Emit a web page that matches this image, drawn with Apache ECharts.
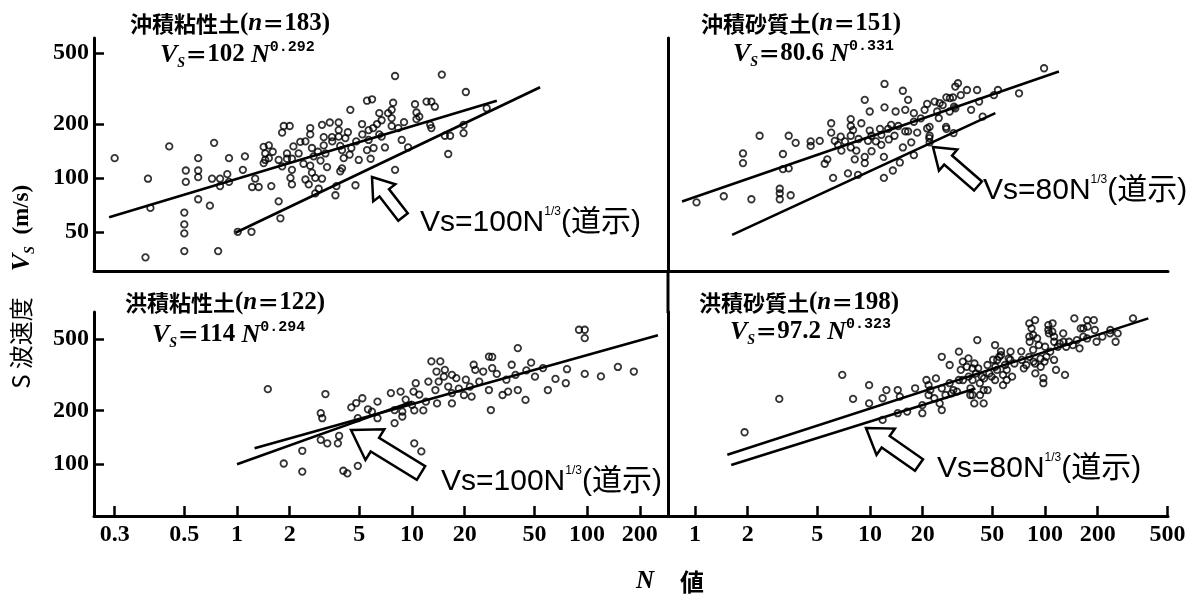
<!DOCTYPE html>
<html>
<head>
<meta charset="utf-8">
<script src="https://cdn.jsdelivr.net/npm/echarts@6/dist/echarts.min.js"></script>
<style>
html,body{margin:0;padding:0;background:#fff}
#chart{width:1191px;height:595px}
</style>
</head>
<body>
<div id="chart"></div>
<script>
// ---- data (N, Vs) ----
var panelNames = ['沖積粘性土', '沖積砂質土', '洪積粘性土', '洪積砂質土'];
var panelCount = ['183', '151', '122', '198'];
var coefA = ['102', '80.6', '114', '97.2'];
var coefB = ['0.292', '0.331', '0.294', '0.323'];
var refText = ['100', '80', '100', '80'];

var xTicksLeft = [0.2, 0.5, 1, 2, 5, 10, 20, 50, 100, 200];
var xLabelsLeft = ['0.3', '0.5', '1', '2', '5', '10', '20', '50', '100', '200'];
var xTicksRight = [1, 2, 5, 10, 20, 50, 100, 200, 500];
var xLabelsRight = ['1', '2', '5', '10', '20', '50', '100', '200', '500'];
var yTicksTop = [50, 100, 200, 500];
var yTicksBottom = [100, 200, 500];

// 沖積粘性土
var tlPoints = [
  [0.20,129],[0.30,36],[0.31,99],[0.32,68],[0.41,150],[0.50,64],[0.50,55],[0.50,49],[0.50,39],
  [0.51,110],[0.51,95],[0.60,129],[0.60,110],[0.60,101],[0.60,76],[0.70,70],[0.74,157],[0.78,39],
  [0.72,99],[0.80,99],[0.80,90],[0.88,105],[0.90,129],[0.90,95],[1.08,111],[1.11,132],[1.01,50],
  [1.21,50],[1.27,99],[1.22,89],[1.33,89],[1.42,149],[1.45,137],[1.45,126],[1.42,121],[1.52,152],
  [1.52,129],[1.57,90],[1.73,74],[1.77,59.5],[1.81,179],[1.85,195],[2.0,195],[1.73,126],[1.81,116],
  [1.93,137],[1.93,128],[2.06,128],[2.06,111],[2.02,100],[2.06,92],[2.25,137],[2.30,159],[2.46,160],
  [2.62,190],[2.62,175],[2.68,147],[2.74,132],[2.62,117],[2.68,107],[2.46,98],[2.57,92],[2.80,100],
  [2.93,87],[3.06,99],[2.80,82],[3.06,198],[3.13,169],[3.13,152],[3.20,137],[3.27,115],[3.39,204],
  [3.49,169],[3.65,80],[3.7,90],[3.81,204],[3.81,185],[3.81,170],[3.89,151],[3.98,143],[4.07,129],
  [4.16,167],[3.98,113],[3.89,109],[4.44,240],[4.5,147],[4.75,91],[4.96,126],[5.18,200],[5.53,270],
  [5.91,275],[5.65,185],[5.65,163],[5.53,143],[5.8,128],[6.03,147],[6.31,200],[6.5,230],[6.5,175],
  [8.0,371],[14.8,378],[20.3,302],[7.8,263],[10.4,258],[12.1,267],[12.9,267],[7.65,240],[7.65,216],
  [10.6,232],[10.6,213],[7.65,195],[8.35,190],[12.7,198],[12.9,190],[26.7,245],[6.7,210],[6.7,170],
  [7.0,148],[8.73,163],[9.5,148],[15.4,172],[16.5,172],[19.7,178],[19.7,198],[16.1,136],[8.0,111],
  [1.6,140],[2.1,150],[2.9,140],[3.5,160],[4.3,180],[4.8,160],[5.2,175],[6.0,190],[7.3,230],
  [9.0,205],[11.0,220],[13.5,250],[2.4,120],[3.0,125],[4.4,135]
];
var tlFit = [[0.186,60.3],[30.5,270]];
var tlRef = [[0.98,49.4],[53.9,321]];

// 沖積砂質土
var trPoints = [
  [1.02,73],[1.46,79],[2.10,76],[3.05,87],[3.05,82],[3.05,76],[3.52,80],[1.88,137],[1.88,121],
  [2.34,172],[3.18,136],[3.18,112],[3.43,113],[3.43,172],[3.76,157],[4.58,151],[4.58,160],[5.16,161],
  [5.51,120],[5.70,127],[6.0,202],[6.0,179],[6.15,100],[6.29,161],[6.56,153],[6.86,142],[7.48,106],
  [7.76,213],[7.76,195],[7.76,172],[7.76,148],[8.0,185],[8.18,127],[8.35,142],[8.54,104],[8.92,202],
  [9.33,273],[9.33,131],[9.33,121],[9.74,161],[9.96,235],[9.96,184],[10.2,141],[10.2,172],[11.4,188],
  [11.6,174],[11.6,153],[12.0,131],[12.0,100],[12.1,335],[12.1,248],[12.7,188],[12.8,164],[13.2,198],
  [13.5,110],[14.0,235],[14.5,195],[14.8,122],[15.4,307],[15.4,148],[15.9,240],[15.9,182],[16.5,273],
  [16.5,182],[17.2,158],[17.8,230],[17.8,206],[17.8,134],[18.6,179],[21.2,259],[21.9,193],[21.9,172],
  [21.9,158],[23.4,267],[24.7,216],[25.0,262],[27.3,282],[27.3,188],[28.5,235],[29.8,282],[30.7,324],
  [30.7,245],[98.7,410],[71,297],[53.8,310],[51,290],[40.9,310],[35.8,310],[31.8,338],[42,267],
  [37.8,240],[44,220],[30.2,250],[28.6,279],[27.2,193],[24.2,235],[21.2,189],[30,178],[21.8,167],
  [6.8,170],[7.2,160],[8.6,165],[10.8,160],[13.8,172],[19.5,215],[20.5,240],[26,255],[33,290]
];
var trFit = [[0.843,73.8],[120,393]];
var trRef = [[1.63,48.1],[52,230]];

// 洪積粘性土
var blPoints = [
  [1.50,263],[1.85,101],[2.36,119],[2.36,91],[3.01,193],[3.07,181],[3.2,247],[3.01,137],[3.28,131],
  [3.77,131],[3.83,144],[4.05,92],[4.27,89],[4.5,208],[4.8,220],[5.2,234],[4.9,181],[4.9,98],
  [5.6,120],[5.6,203],[6.0,149],[6.35,224],[6.35,181],[5.9,197],[7.57,250],[7.95,170],[8.6,255],
  [8.8,185],[7.95,201],[8.8,197],[10,215],[10.2,255],[10.3,200],[10.5,284],[10.3,131],[11.3,118],
  [12,224],[11.6,200],[12.4,290],[12.9,376],[13.8,330],[14.5,376],[13.6,260],[13.9,219],[15.2,309],
  [15.4,337],[16.1,272],[16.9,316],[16.9,219],[17.9,303],[16.9,250],[19.8,244],[20.3,297],[21.9,239],
  [22.5,360],[23.0,337],[21.4,272],[24.2,290],[27.5,260],[28.2,201],[27.5,400],[28.7,398],[28.7,345],
  [32.9,244],[34.6,297],[35.4,255],[37.1,360],[39,316],[40.2,260],[40.2,446],[44.5,229],[47.9,370],
  [50.4,309],[59.7,260],[75.6,284],[76.8,340],[97,320],[89.9,565],[97,565],[97,507],
  [120,310],[150,350],[185,330],[9.2,230],[11.0,245],[14.2,290],[18.5,265],[25.5,330],[30.5,320],
  [45,335],[56,345],[66,300]
];
var blFit = [[1.26,123],[254,527]];
var blRef = [[1.0,100],[10,224]];

// 洪積砂質土
var brPoints = [
  [1.92,151],[3.03,232],[6.94,316],[8.0,232],[9.88,277],[9.88,219],[11.8,177],[11.8,234],[12.4,260],
  [14.4,260],[14.8,239],[14.4,193],[16.3,197],[18.1,266],[19.9,193],[19.9,214],[21.6,244],[21.6,277],
  [23.8,302],[25.7,266],[25.7,201],[25.7,399],[28.5,359],[28.5,284],[29.2,249],[31.4,255],[32.2,426],
  [33,337],[34,296],[36.5,391],[37.4,244],[38.5,344],[38.5,296],[39.4,219],[40.3,322],[41,495],
  [42.4,284],[43.6,309],[44.6,219],[44.6,260],[46.9,359],[48,322],[50.5,384],[51.8,464],[51.8,296],
  [53.2,337],[56,408],[56,428],[57.5,277],[59,359],[60.4,296],[63.2,384],[64.8,309],[73.1,428],
  [78.1,359],[81.7,484],[83.7,575],[85.8,375],[88,322],[90.1,505],[94.2,390],[97.8,284],[97.8,303],
  [100,454],[105.2,539],[110.4,614],[112.8,484],[115.5,337],[127,539],[130,316],[132,454],[147,654],
  [152,494],[160,575],[175,588],[190,640],[197,484],[235,539],[253,484],[318,654],
  [21.0,296],[22.1,260],[23.3,234],[25.0,219],[27.0,244],[29.9,260],[32.2,296],[33.9,375],[35.7,351],
  [36.6,309],[37.5,266],[38.5,244],[39.5,366],[41.5,344],[42.5,244],[44.8,302],[47.0,260],[49.5,309],
  [52.0,351],[53.3,383],[54.7,399],[57.5,316],[60.4,337],[61.9,391],[63.5,426],[66.8,366],[73.7,383],
  [75.6,344],[81.3,399],[85.5,436],[87.7,366],[92.1,464],[94.4,351],[99.3,375],[101.8,399],[107,426],
  [112.6,383],[118.3,454],[121.3,474],[127.5,484],[137.1,484],[144.1,464],[157.4,445],[165.5,517],
  [174,505],[192.5,563],[212.5,517],[236,563],[260,539],[174,640],[165.5,575],[104.4,563],[104.4,600],
  [85.5,528],[81.3,517],[81.3,613],[87.7,640],[110,551],[112.6,517]
];
var brFit = [[1.53,113],[389,654]];
var brRef = [[1.61,99],[40,265]];

// ---- layout ----
var SERIF = "'Liberation Serif','DejaVu Serif',serif";
var CJK = "'Noto Sans CJK JP',sans-serif";
var SANS = "'Liberation Sans','Noto Sans CJK JP',sans-serif";
var MONO = "'Liberation Mono','DejaVu Sans Mono',monospace";

var grids = [
  {left: 94, top: 38, width: 574, height: 233},
  {left: 668, top: 38, width: 500, height: 233},
  {left: 94, top: 312, width: 574, height: 204},
  {left: 668, top: 312, width: 500, height: 204}
];
var xRange = [[0.1524, 290], [0.701, 504], [0.1524, 290], [0.701, 504]];
var yRange = [[30.2, 605], [30.2, 605], [51.4, 710], [51.4, 710]];

function labelFor(ticks, labels) {
  return function (v) {
    for (var i = 0; i < ticks.length; i++) {
      if (Math.abs(Math.log10(ticks[i]) - v) < 1e-6) return labels[i];
    }
    return '';
  };
}

var axisLine = {show: true, lineStyle: {color: '#000', width: 3}};
var tickLabel = {fontFamily: SERIF, fontWeight: 'bold', fontSize: 24, color: '#000'};

function makeX(gi, ticks, labels) {
  var r = xRange[gi];
  var logAx = {type: 'log', logBase: 10, gridIndex: gi, min: r[0], max: r[1], show: false};
  var valAx = {
    type: 'value', gridIndex: gi, position: 'bottom',
    min: Math.log10(r[0]), max: Math.log10(r[1]),
    axisLine: axisLine, splitLine: {show: false}
  };
  if (ticks) {
    var vals = ticks.map(Math.log10);
    valAx.axisTick = {show: true, inside: true, length: 10, customValues: vals, lineStyle: {color: '#000', width: 2.5}};
    valAx.axisLabel = Object.assign({show: true, margin: 7, customValues: vals, formatter: labelFor(ticks, labels)}, tickLabel);
  } else {
    valAx.axisTick = {show: false};
    valAx.axisLabel = {show: false};
  }
  return [logAx, valAx];
}

function makeY(gi, ticks) {
  var r = yRange[gi];
  var logAx = {type: 'log', logBase: 10, gridIndex: gi, min: r[0], max: r[1], show: false};
  var valAx = {
    type: 'value', gridIndex: gi, position: 'left',
    min: Math.log10(r[0]), max: Math.log10(r[1]),
    axisLine: axisLine, splitLine: {show: false}
  };
  if (ticks) {
    var vals = ticks.map(Math.log10);
    valAx.axisTick = {show: true, inside: true, length: 10, customValues: vals, lineStyle: {color: '#000', width: 2.5}};
    valAx.axisLabel = Object.assign({show: true, margin: 5, customValues: vals,
      formatter: labelFor(ticks, ticks.map(String))}, tickLabel);
  } else {
    valAx.axisTick = {show: false};
    valAx.axisLabel = {show: false};
  }
  return [logAx, valAx];
}

var xAxes = [].concat(
  makeX(0, null), makeX(1, null),
  makeX(2, xTicksLeft, xLabelsLeft), makeX(3, xTicksRight, xLabelsRight)
);
var yAxes = [].concat(
  makeY(0, yTicksTop), makeY(1, null),
  makeY(2, yTicksBottom), makeY(3, null)
);

function scatter(gi, pts) {
  return {
    type: 'scatter', xAxisIndex: gi * 2, yAxisIndex: gi * 2, data: pts,
    symbol: 'circle', symbolSize: 6.5, z: 3,
    itemStyle: {color: 'rgba(0,0,0,0)', borderColor: '#000', borderWidth: 1.8}
  };
}
function fitLine(gi, pts) {
  return {
    type: 'line', xAxisIndex: gi * 2, yAxisIndex: gi * 2, data: pts,
    symbol: 'none', z: 2, lineStyle: {color: '#000', width: 2.6}
  };
}

var series = [
  fitLine(0, tlFit), fitLine(0, tlRef), scatter(0, tlPoints),
  fitLine(1, trFit), fitLine(1, trRef), scatter(1, trPoints),
  fitLine(2, blFit), fitLine(2, blRef), scatter(2, blPoints),
  fitLine(3, brFit), fitLine(3, brRef), scatter(3, brPoints)
];

// ---- annotations ----
var titlePos = [[130, 24], [701, 24], [125, 303], [699, 303]];
var eqPos = [[160, 55], [733, 54], [152, 335], [730, 332]];
var notePos = [[420, 223], [983, 191], [441, 482], [937, 469]];
var arrows = [
  {tip: [372, 177], tail: [403, 217], head: 20, half: 14, shaft: 6},
  {tip: [933, 147], tail: [978, 186], head: 20, half: 14, shaft: 6},
  {tip: [351, 430], tail: [421, 473], head: 28, half: 18, shaft: 8},
  {tip: [866, 428], tail: [919, 465], head: 24, half: 16, shaft: 7}
];

function arrowPoints(a) {
  var dx = a.tip[0] - a.tail[0], dy = a.tip[1] - a.tail[1];
  var L = Math.sqrt(dx * dx + dy * dy), ux = dx / L, uy = dy / L, px = -uy, py = ux;
  var hx = a.tip[0] - ux * a.head, hy = a.tip[1] - uy * a.head;
  return [
    a.tip,
    [hx + px * a.half, hy + py * a.half],
    [hx + px * a.shaft, hy + py * a.shaft],
    [a.tail[0] + px * a.shaft, a.tail[1] + py * a.shaft],
    [a.tail[0] - px * a.shaft, a.tail[1] - py * a.shaft],
    [hx - px * a.shaft, hy - py * a.shaft],
    [hx - px * a.half, hy - py * a.half]
  ];
}

var titleRich = {
  c: {fontFamily: CJK, fontWeight: 'bold', fontSize: 22, fill: '#000'},
  p: {fontFamily: SERIF, fontWeight: 'bold', fontSize: 25, fill: '#000'},
  n: {fontFamily: SERIF, fontWeight: 'bold', fontStyle: 'italic', fontSize: 25, fill: '#000'}
};
var eqRich = {
  v: {fontFamily: SERIF, fontWeight: 'bold', fontStyle: 'italic', fontSize: 26, fill: '#000', lineHeight: 30},
  s: {fontFamily: SERIF, fontWeight: 'bold', fontStyle: 'italic', fontSize: 14, fill: '#000', verticalAlign: 'bottom', lineHeight: 16},
  c: {fontFamily: CJK, fontWeight: 'bold', fontSize: 22, fill: '#000'},
  p: {fontFamily: SERIF, fontWeight: 'bold', fontSize: 25, fill: '#000'},
  e: {fontFamily: MONO, fontWeight: 'bold', fontSize: 15, fill: '#000', verticalAlign: 'top', lineHeight: 18}
};
var noteRich = {
  a: {fontFamily: SANS, fontSize: 30, fill: '#000', lineHeight: 34},
  s: {fontFamily: SANS, fontSize: 12, fill: '#000', verticalAlign: 'top', lineHeight: 14}
};

var graphic = [
  {type: 'line', shape: {x1: 668, y1: 270, x2: 668, y2: 313}, style: {stroke: '#000', lineWidth: 3}, z: 10}
];
for (var i = 0; i < 4; i++) {
  graphic.push({
    type: 'text', x: titlePos[i][0], y: titlePos[i][1], z: 20,
    style: {text: '{c|' + panelNames[i] + '}{p|(}{n|n}{c|＝}{p|' + panelCount[i] + ')}',
      rich: titleRich, align: 'left', verticalAlign: 'middle'}
  });
  graphic.push({
    type: 'text', x: eqPos[i][0], y: eqPos[i][1], z: 20,
    style: {text: '{v|V}{s|S}{c|＝}{p|' + coefA[i] + ' }{v|N}{e|' + coefB[i] + '}',
      rich: eqRich, align: 'left', verticalAlign: 'middle'}
  });
  graphic.push({
    type: 'text', x: notePos[i][0], y: notePos[i][1], z: 20,
    style: {text: '{a|Vs=' + refText[i] + 'N}{s|1/3}{a|(道示)}',
      rich: noteRich, align: 'left', verticalAlign: 'middle'}
  });
  graphic.push({
    type: 'polygon', z: 20, shape: {points: arrowPoints(arrows[i])},
    style: {fill: '#fff', stroke: '#000', lineWidth: 2.5}
  });
}
// axis titles
graphic.push({
  type: 'text', x: 21, y: 343, rotation: Math.PI / 2, z: 20,
  style: {text: 'S 波速度', font: "24px 'Noto Sans CJK JP'", fill: '#000', align: 'center', verticalAlign: 'middle'}
});
graphic.push({
  type: 'text', x: 22, y: 228, rotation: Math.PI / 2, z: 20,
  style: {text: '{v|V}{s|S}{p|  (m/s)}', align: 'center', verticalAlign: 'middle',
    rich: {
      v: {fontFamily: SERIF, fontWeight: 'bold', fontStyle: 'italic', fontSize: 26, fill: '#000', lineHeight: 30},
      s: {fontFamily: SERIF, fontWeight: 'bold', fontStyle: 'italic', fontSize: 14, fill: '#000', verticalAlign: 'bottom', lineHeight: 16},
      p: {fontFamily: SERIF, fontWeight: 'bold', fontSize: 23, fill: '#000'}
    }}
});
graphic.push({
  type: 'text', x: 645, y: 582, z: 20,
  style: {text: 'N', font: "italic bold 25px 'Liberation Serif'", fill: '#000', align: 'center', verticalAlign: 'middle'}
});
graphic.push({
  type: 'text', x: 692, y: 582, z: 20,
  style: {text: '値', font: "bold 24px 'Noto Sans CJK JP'", fill: '#000', align: 'center', verticalAlign: 'middle'}
});

var chart = echarts.init(document.getElementById('chart'));
chart.setOption({
  animation: false,
  backgroundColor: '#fff',
  grid: grids,
  xAxis: xAxes,
  yAxis: yAxes,
  series: series,
  graphic: graphic
});
</script>
</body>
</html>
